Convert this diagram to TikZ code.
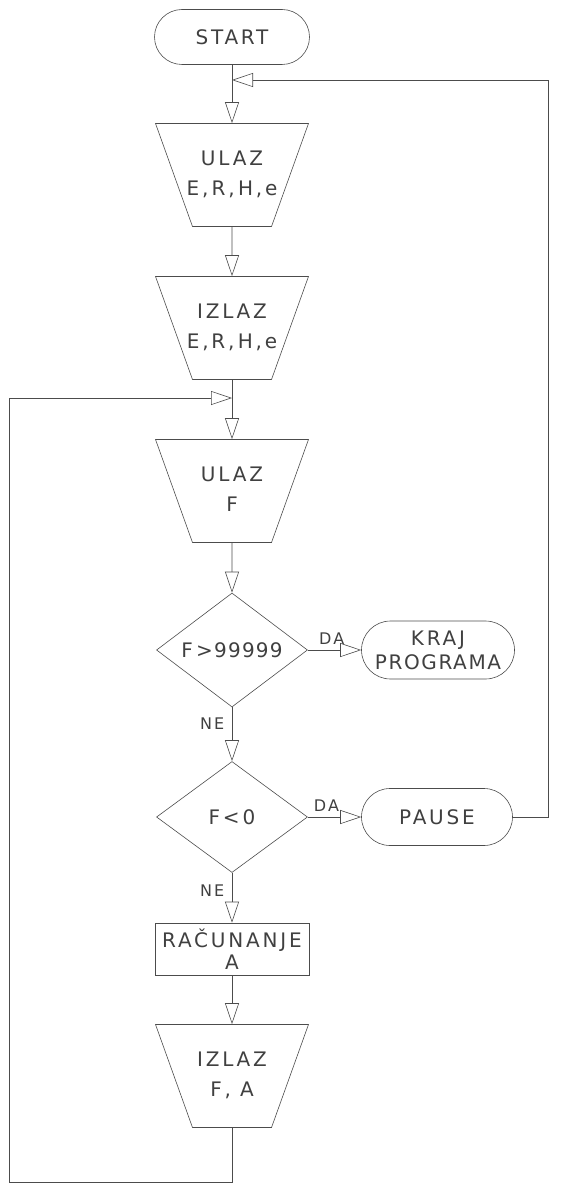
\documentclass[tikz,border=0pt]{standalone}
\usepackage{fontspec}
\newfontfamily\lettering[LetterSpace=14]{DejaVu Sans}
\usetikzlibrary{shapes.geometric,shapes.misc,arrows.meta}
\newcommand{\zw}[1]{\makebox[78pt]{\rule[-4pt]{0pt}{16pt}#1}}

\tikzset{
  every node/.style={font=\lettering\fontsize{20}{30}\selectfont, text=black!75},
  line/.style={draw=black!70, line width=0.6pt},
  arr/.style={line, -{Triangle[open,length=21pt,width=14pt]}},
  terminal/.style={rounded rectangle, draw=black!70, line width=0.6pt,
    minimum width=155pt, minimum height=55pt, inner sep=0pt, align=center},
  io/.style={trapezium, trapezium stretches=true, shape border rotate=180,
    trapezium angle=53.1, draw=black!70, line width=0.6pt,
    minimum width=153pt, minimum height=103pt, inner sep=0pt, align=center},
  decision/.style={diamond, aspect=1.3, draw=black!70, line width=0.6pt,
    minimum width=151pt, minimum height=114pt, inner sep=0pt},
  process/.style={rectangle, draw=black!70, line width=0.6pt,
    minimum width=154pt, minimum height=52pt, inner sep=0pt, align=center},
  tag/.style={font=\lettering\fontsize{16}{20}\selectfont},
}

\begin{document}
\begin{tikzpicture}[x=1pt,y=-1pt]
  \useasboundingbox (0,0) rectangle (562,1185);

  % main column
  \node[terminal] (start) at (232,37) {START};
  \coordinate (m1) at (232,80);
  \node[io] (in1) at (232,175) {\zw{ULAZ}\\\zw{E,\,R,\,H,e}};
  \node[io] (out1) at (232,328) {\zw{IZLAZ}\\\zw{E,R,\,H,e}};
  \coordinate (m2) at (232,398);
  \node[io] (in2) at (232,491) {\zw{ULAZ}\\\zw{F}};
  \node[decision] (d1) at (232,650) {\addfontfeature{LetterSpace=6}F\,>99999};
  \node[decision, minimum height=111pt] (d2) at (232,817) {F<0};
  \node[process] (calc) at (232,949) {RAČUNANJE\\[-8pt]A};
  \node[io] (out2) at (232,1076) {\zw{IZLAZ}\\\zw{F, A}};

  % right side
  \node[terminal, minimum height=58pt, minimum width=153pt] (kraj) at (438,650) {KRAJ\\[-6pt]\addfontfeature{LetterSpace=8}PROGRAMA};
  \node[terminal, minimum height=57pt, minimum width=151pt] (pause) at (437,817) {PAUSE};

  % loop corners
  \coordinate (r1) at (548,80);
  \coordinate (b1) at (232,1182);
  \coordinate (b2) at (9,398);

  \draw[line] (start) -- (m1);
  \draw[arr] (m1) -- (in1);
  \draw[arr] (in1) -- (out1);
  \draw[line] (out1) -- (m2);
  \draw[arr] (m2) -- (in2);
  \draw[arr] (in2) -- (d1);
  \draw[arr] (d1) -- node[tag, above, pos=0.45, yshift=2pt] {DA} (kraj);
  \draw[arr] (d1) -- node[tag, left, pos=0.3, xshift=-4pt] {NE} (d2);
  \draw[arr] (d2) -- node[tag, above, pos=0.35, yshift=2pt] {DA} (pause);
  \draw[arr] (d2) -- node[tag, left, pos=0.35, xshift=-4pt] {NE} (calc);
  \draw[arr] (calc) -- (out2);

  % back loops
  \draw[arr] (pause) -| (r1) -- (m1);
  \draw[arr] (out2) -- (b1) -| (b2) -- (m2);
\end{tikzpicture}
\end{document}
